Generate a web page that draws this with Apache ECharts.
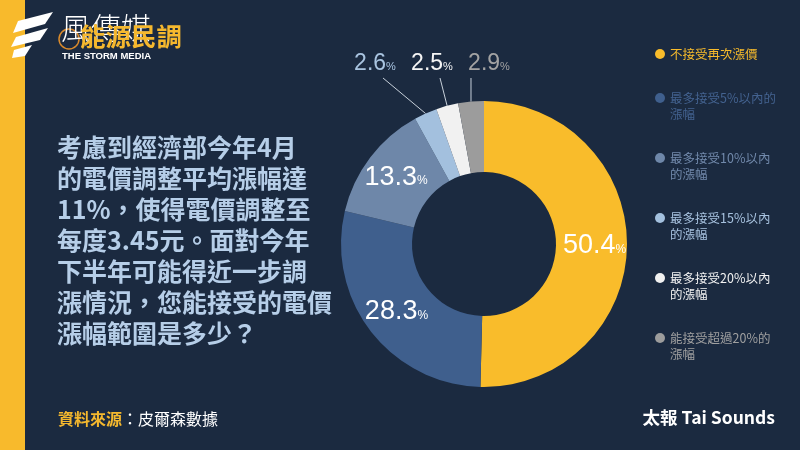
<!DOCTYPE html>
<html><head><meta charset="utf-8">
<script src="https://cdn.jsdelivr.net/npm/echarts@6/dist/echarts.min.js"></script>
<style>html,body{margin:0;padding:0;background:#1b2a40;}#c{width:800px;height:450px;}</style>
</head><body><div id="c"></div>
<script>
// ---- data ----
const categories = ['不接受再次漲價','最多接受5%以內的漲幅','最多接受10%以內的漲幅','最多接受15%以內的漲幅','最多接受20%以內的漲幅','能接受超過20%的漲幅'];
const values = [50.4, 28.3, 13.3, 2.6, 2.5, 2.9];
const legendLine1 = ['不接受再次漲價','最多接受5%以內的','最多接受10%以內','最多接受15%以內','最多接受20%以內','能接受超過20%的'];
const legendLine2 = ['','漲幅','的漲幅','的漲幅','的漲幅','漲幅'];
const questionLines = ['考慮到經濟部今年4月','的電價調整平均漲幅達','11%，使得電價調整至','每度3.45元。面對今年','下半年可能得近一步調','漲情況，您能接受的電價','漲幅範圍是多少？'];

// ---- styles ----
const BG = '#1b2a40';
const sliceColors = ['#f9bc2b','#3f5f8d','#6e87a9','#a3c0de','#f1f1f1','#9c9c9c'];
const legendColors = ['#f9bc2b','#43628f','#7189ab','#a7c2df','#f2f2f2','#a0a0a0'];
const labelColors = ['#ffffff','#ffffff','#ffffff','#a9c4e0','#f4f4f4','#a3a3a3'];
const legendY = [54, 98, 158, 218, 278, 338];
const CX = 484, CY = 244, R0 = 72, R1 = 143;
const NUMFONT = "'Liberation Sans','Roboto',sans-serif";
const CJK = "'Noto Sans CJK TC','Noto Sans CJK SC',sans-serif";

const chart = echarts.init(document.getElementById('c'), null, {renderer:'canvas'});

const legends = categories.map((name, i) => ({
  show: true,
  orient: 'vertical',
  left: 655,
  top: legendY[i] - 8,
  padding: 0,
  itemWidth: 10, itemHeight: 10, itemGap: 0,
  icon: 'circle',
  selectedMode: false,
  data: [{name: name, textStyle: {color: legendColors[i]}}],
  formatter: () => legendLine1[i],
  textStyle: {fontSize: 12.5, fontFamily: CJK, lineHeight: 16}
}));

const legendGraphics = legendLine2.map((t, i) => ({
  type: 'text', left: 670, top: legendY[i] + 10,
  style: {text: t, fill: legendColors[i], font: '12.5px ' + CJK}
}));

// stripes logo
const stripes = [
  [[18,21],[53,12],[45,24],[13,33]],
  [[16,37],[48,28],[40,40],[11,47]],
  [[14,50],[32,45],[25,56],[12,58]]
].map(p => ({type:'polygon', shape:{points:p}, style:{fill:'#ffffff'}, z:10}));

const option = {
  backgroundColor: BG,
  animation: false,
  title: [
    {text: questionLines.join('\n'), left: 52, top: 127,
     textStyle: {color:'#b6cee8', fontSize: 25, fontWeight:'bold', lineHeight: 31, fontFamily: CJK}},
    {text: '{y|資料來源}{w|：皮爾森數據}', left: 53, top: 406,
     textStyle: {rich: {y:{color:'#f5b82e', fontSize:16, fontWeight:'bold', fontFamily: CJK},
                        w:{color:'#ffffff', fontSize:16, fontWeight:'normal', fontFamily: CJK}}}},
    {text: '太報 Tai Sounds', right: 20, top: 404,
     textStyle: {color:'#ffffff', fontSize: 17.5, fontWeight:'bold', fontFamily: CJK}}
  ],
  legend: legends,
  graphic: [
    {type:'rect', shape:{x:0,y:0,width:25,height:450}, style:{fill:'#f8ba2c'}, z:5},
    ...stripes,
    {type:'circle', shape:{cx:69, cy:39, r:10}, style:{fill:'none', stroke:'#d98a2b', lineWidth:1.5}, z:10},
    {type:'text', left: 61, top: 13, z: 11,
     style:{text:'風傳媒', fill:'#ffffff', font:'300 30px ' + CJK}},
    {type:'text', left: 80, top: 24, z: 12,
     style:{text:'能源民調', fill:'#f5b82e', font:'bold 25.5px ' + CJK}},
    {type:'text', left: 62, top: 51, z: 12,
     style:{text:'THE STORM MEDIA', fill:'#ffffff', font:'bold 9.5px ' + "'Liberation Sans',sans-serif"}},
    ...legendGraphics
  ],
  series: [{
    type: 'pie',
    center: [CX, CY],
    radius: [R0, R1],
    startAngle: 90,
    clockwise: true,
    avoidLabelOverlap: false,
    emphasis: {disabled: true},
    silent: true,
    itemStyle: {borderWidth: 0},
    data: categories.map((name, i) => ({
      name: name,
      value: values[i],
      itemStyle: {color: sliceColors[i]},
      label: i < 3 ? {
        position: 'inside',
        rich: {n:{fontSize: 27, color: labelColors[i], fontFamily: NUMFONT},
               p:{fontSize: 12, color: labelColors[i], fontFamily: NUMFONT, padding:[8,0,0,0]}}
      } : {
        position: 'outside',
        rich: {n:{fontSize: 23, color: labelColors[i], fontFamily: NUMFONT},
               p:{fontSize: 11, color: labelColors[i], fontFamily: NUMFONT, padding:[6,0,0,0]}}
      },
      labelLine: {show: i >= 3, length: 10, length2: 10, lineStyle: {color:'#c7d0da', width: 1}}
    })),
    label: {
      show: true,
      formatter: p => '{n|' + p.value + '}{p|%}'
    },
    labelLayout: function (params) {
      const i = params.dataIndex;
      if (i < 3) return {};
      let start;
      if (params.labelLinePoints && params.labelLinePoints[0]) {
        start = params.labelLinePoints[0];
      } else {
        let total = values.reduce((a, b) => a + b, 0);
        let cum = values.slice(0, i).reduce((a, b) => a + b, 0) + values[i] / 2;
        let a = cum / total * Math.PI * 2;
        start = [CX + Math.sin(a) * R1, CY - Math.cos(a) * R1];
      }
      const lx = CX - 52 + (i - 4) * 57;
      const ly = CY - 180;
      const ex = Math.min(start[0], lx + 8);
      const ey = ly + 14;
      return {
        x: lx, y: ly, align: 'center', verticalAlign: 'middle',
        labelLinePoints: [start, [ex, ey], [ex, ey]]
      };
    }
  }]
};
chart.setOption(option);
</script>
</body></html>
